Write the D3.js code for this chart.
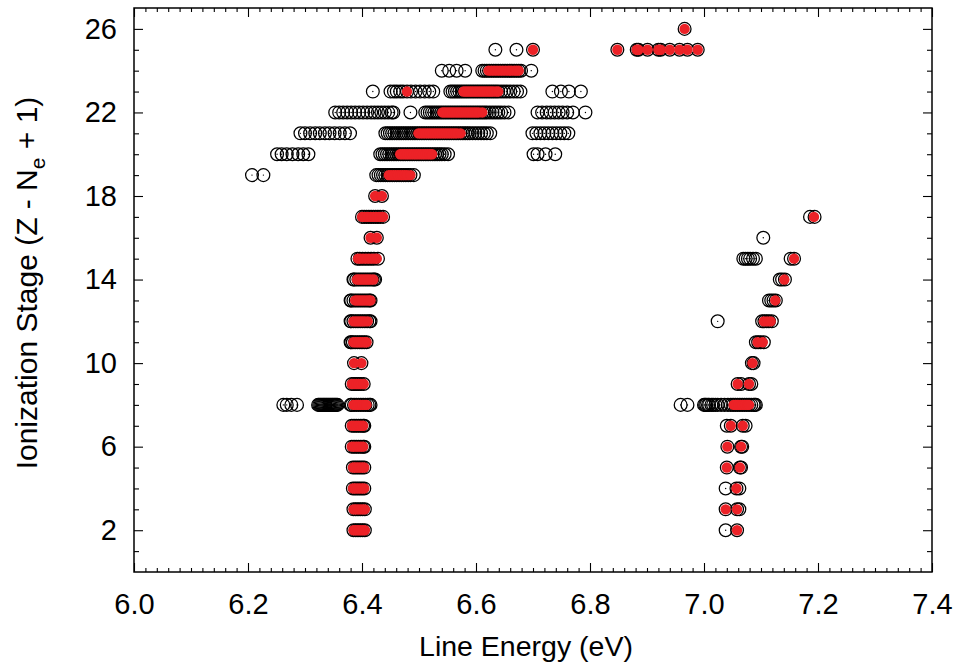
<!DOCTYPE html>
<html>
<head>
<meta charset="utf-8">
<script src="https://cdn.jsdelivr.net/npm/d3@7"></script>
<style>
  body { margin: 0; background: #fff; }
  svg text { font-family: "Liberation Sans", Arial, Helvetica, sans-serif; fill: #000; }
</style>
</head>
<body>
<svg id="chart" width="957" height="669"></svg>
<script>
// Axis ticks
const xTicks = [6.0, 6.2, 6.4, 6.6, 6.8, 7.0, 7.2, 7.4];
const yTicks = [2, 6, 10, 14, 18, 22, 26];

// Every computed line: ionization stage and its line energies (eV)
const allLines = [
  { stage: 2, energy: [6.385, 6.389, 6.393, 6.397, 6.401, 6.405, 7.038, 7.058] },
  { stage: 3, energy: [6.385, 6.389, 6.393, 6.397, 6.401, 6.405, 7.038, 7.058, 7.062] },
  { stage: 4, energy: [6.384, 6.388, 6.392, 6.396, 6.400, 6.404, 7.038, 7.057, 7.062] },
  { stage: 5, energy: [6.384, 6.388, 6.392, 6.396, 6.400, 6.404, 7.040, 7.063, 7.065] },
  { stage: 6, energy: [6.382, 6.386, 6.390, 6.394, 6.398, 6.402, 6.404, 7.041, 7.065, 7.067] },
  { stage: 7, energy: [6.382, 6.386, 6.390, 6.394, 6.398, 6.402, 6.404, 7.040, 7.047, 7.068, 7.073] },
  { stage: 8, energy: [6.262, 6.268, 6.276, 6.286, 6.323, 6.325, 6.327, 6.329, 6.331, 6.333, 6.335, 6.337,
                       6.339, 6.341, 6.343, 6.345, 6.347, 6.349, 6.351, 6.353, 6.355, 6.357, 6.380, 6.382,
                       6.386, 6.390, 6.394, 6.398, 6.402, 6.406, 6.410, 6.413, 6.415, 6.959, 6.971, 7.000,
                       7.002, 7.004, 7.007, 7.009, 7.013, 7.016, 7.020, 7.024, 7.030, 7.036, 7.042, 7.047,
                       7.051, 7.055, 7.059, 7.063, 7.067, 7.071, 7.075, 7.079, 7.083, 7.087, 7.089, 7.091] },
  { stage: 9, energy: [6.382, 6.386, 6.390, 6.394, 6.398, 6.403, 7.059, 7.065, 7.079, 7.083] },
  { stage: 10, energy: [6.386, 6.399, 7.084, 7.087] },
  { stage: 11, energy: [6.380, 6.381, 6.384, 6.388, 6.392, 6.396, 6.400, 6.404, 6.408, 7.091, 7.095, 7.099,
                        7.105] },
  { stage: 12, energy: [6.380, 6.381, 6.385, 6.389, 6.393, 6.397, 6.401, 6.405, 6.409, 6.413, 6.415, 7.024,
                        7.102, 7.106, 7.110, 7.114, 7.119] },
  { stage: 13, energy: [6.380, 6.381, 6.385, 6.389, 6.393, 6.397, 6.401, 6.405, 6.409, 6.413, 6.415, 7.114,
                        7.118, 7.122, 7.126] },
  { stage: 14, energy: [6.385, 6.386, 6.390, 6.394, 6.398, 6.402, 6.406, 6.410, 6.414, 6.418, 6.421, 6.423,
                        7.133, 7.137, 7.142] },
  { stage: 15, energy: [6.392, 6.396, 6.401, 6.406, 6.411, 6.416, 6.421, 6.428, 7.069, 7.073, 7.077, 7.081,
                        7.086, 7.091, 7.152, 7.158] },
  { stage: 16, energy: [6.415, 6.426, 7.104] },
  { stage: 17, energy: [6.400, 6.404, 6.408, 6.412, 6.416, 6.420, 6.424, 6.428, 6.432, 6.437, 7.186, 7.194] },
  { stage: 18, energy: [6.423, 6.435] },
  { stage: 19, energy: [6.207, 6.227, 6.425, 6.429, 6.433, 6.437, 6.441, 6.445, 6.449, 6.453, 6.457, 6.461,
                        6.465, 6.469, 6.473, 6.477, 6.481, 6.485, 6.491] },
  { stage: 20, energy: [6.251, 6.259, 6.268, 6.278, 6.288, 6.297, 6.306, 6.432, 6.436, 6.440, 6.444, 6.448,
                        6.452, 6.456, 6.460, 6.464, 6.468, 6.472, 6.476, 6.480, 6.484, 6.488, 6.492, 6.496,
                        6.500, 6.504, 6.508, 6.512, 6.516, 6.520, 6.524, 6.528, 6.532, 6.536, 6.540, 6.545,
                        6.551, 6.701, 6.708, 6.722, 6.739] },
  { stage: 21, energy: [6.292, 6.300, 6.309, 6.318, 6.326, 6.335, 6.343, 6.352, 6.361, 6.370, 6.379, 6.441,
                        6.445, 6.449, 6.453, 6.457, 6.461, 6.465, 6.469, 6.473, 6.477, 6.481, 6.485, 6.489,
                        6.493, 6.497, 6.501, 6.505, 6.509, 6.513, 6.517, 6.521, 6.525, 6.529, 6.533, 6.537,
                        6.541, 6.545, 6.549, 6.553, 6.557, 6.561, 6.565, 6.569, 6.573, 6.577, 6.581, 6.585,
                        6.589, 6.594, 6.599, 6.604, 6.609, 6.614, 6.619, 6.625, 6.699, 6.706, 6.713, 6.720,
                        6.727, 6.734, 6.741, 6.748, 6.755, 6.762] },
  { stage: 22, energy: [6.353, 6.360, 6.367, 6.374, 6.381, 6.388, 6.395, 6.402, 6.409, 6.416, 6.422, 6.428,
                        6.434, 6.440, 6.446, 6.452, 6.455, 6.485, 6.511, 6.515, 6.519, 6.523, 6.527, 6.531,
                        6.535, 6.539, 6.543, 6.547, 6.551, 6.555, 6.559, 6.563, 6.567, 6.571, 6.575, 6.579,
                        6.583, 6.587, 6.591, 6.595, 6.599, 6.603, 6.607, 6.611, 6.615, 6.619, 6.624, 6.629,
                        6.634, 6.639, 6.644, 6.650, 6.657, 6.708, 6.716, 6.724, 6.731, 6.738, 6.745, 6.752,
                        6.760, 6.770, 6.792] },
  { stage: 23, energy: [6.419, 6.450, 6.456, 6.461, 6.467, 6.472, 6.479, 6.486, 6.494, 6.502, 6.510, 6.518,
                        6.525, 6.555, 6.559, 6.563, 6.567, 6.571, 6.575, 6.579, 6.583, 6.587, 6.591, 6.595,
                        6.599, 6.603, 6.607, 6.611, 6.615, 6.619, 6.623, 6.627, 6.631, 6.635, 6.639, 6.644,
                        6.649, 6.654, 6.660, 6.666, 6.672, 6.678, 6.734, 6.749, 6.763, 6.784] },
  { stage: 24, energy: [6.540, 6.553, 6.566, 6.581, 6.611, 6.615, 6.619, 6.623, 6.627, 6.631, 6.635, 6.639,
                        6.643, 6.647, 6.651, 6.655, 6.659, 6.663, 6.667, 6.671, 6.675, 6.679, 6.697] },
  { stage: 25, energy: [6.634, 6.671, 6.700, 6.848, 6.882, 6.885, 6.901, 6.920, 6.924, 6.940, 6.957, 6.971,
                        6.989] },
  { stage: 26, energy: [6.966] }
];

// Strong lines, drawn as filled red markers over the full set
const strongLines = [
  { stage: 2, energy: [6.385, 6.389, 6.393, 6.397, 6.401, 6.405, 7.058] },
  { stage: 3, energy: [6.385, 6.389, 6.393, 6.397, 6.401, 6.405, 7.038, 7.058] },
  { stage: 4, energy: [6.384, 6.388, 6.392, 6.396, 6.400, 6.404, 7.057] },
  { stage: 5, energy: [6.384, 6.388, 6.392, 6.396, 6.400, 6.404, 7.040, 7.063] },
  { stage: 6, energy: [6.382, 6.386, 6.390, 6.394, 6.398, 6.402, 7.041, 7.065] },
  { stage: 7, energy: [6.382, 6.386, 6.390, 6.394, 6.398, 6.402, 7.047, 7.068] },
  { stage: 8, energy: [6.385, 6.389, 6.393, 6.397, 6.401, 6.405, 6.408, 7.052, 7.056, 7.060, 7.064, 7.068,
                       7.072, 7.076, 7.079] },
  { stage: 9, energy: [6.382, 6.386, 6.390, 6.394, 6.398, 6.403, 7.059, 7.079] },
  { stage: 10, energy: [6.386, 6.399, 7.085] },
  { stage: 11, energy: [6.385, 6.389, 6.393, 6.397, 6.401, 6.405, 6.408, 7.094, 7.103] },
  { stage: 12, energy: [6.385, 6.389, 6.393, 6.397, 6.401, 6.405, 6.410, 7.105, 7.111, 7.117] },
  { stage: 13, energy: [6.388, 6.392, 6.396, 6.400, 6.404, 6.408, 6.412, 6.415, 7.125] },
  { stage: 14, energy: [6.391, 6.395, 6.399, 6.403, 6.407, 6.411, 6.415, 6.420, 7.141] },
  { stage: 15, energy: [6.393, 6.397, 6.402, 6.407, 6.412, 6.417, 6.422, 6.426, 7.158] },
  { stage: 16, energy: [6.415, 6.426] },
  { stage: 17, energy: [6.400, 6.405, 6.410, 6.415, 6.420, 6.425, 6.430, 6.434, 6.437, 7.193] },
  { stage: 18, energy: [6.423, 6.435] },
  { stage: 19, energy: [6.447, 6.451, 6.455, 6.459, 6.463, 6.467, 6.471, 6.475, 6.479, 6.485] },
  { stage: 20, energy: [6.467, 6.471, 6.475, 6.479, 6.483, 6.487, 6.491, 6.495, 6.499, 6.503, 6.507, 6.511,
                        6.515, 6.519, 6.523] },
  { stage: 21, energy: [6.499, 6.503, 6.507, 6.511, 6.515, 6.519, 6.523, 6.527, 6.531, 6.535, 6.539, 6.543,
                        6.547, 6.551, 6.555, 6.559, 6.563, 6.567, 6.573] },
  { stage: 22, energy: [6.541, 6.545, 6.549, 6.553, 6.557, 6.561, 6.565, 6.569, 6.573, 6.577, 6.581, 6.585,
                        6.589, 6.593, 6.597, 6.601, 6.605, 6.611] },
  { stage: 23, energy: [6.479, 6.578, 6.582, 6.586, 6.590, 6.594, 6.598, 6.602, 6.606, 6.610, 6.614, 6.618,
                        6.622, 6.626, 6.630, 6.635, 6.639] },
  { stage: 24, energy: [6.622, 6.627, 6.632, 6.637, 6.642, 6.647, 6.652, 6.657, 6.662, 6.667, 6.671, 6.675] },
  { stage: 25, energy: [6.700, 6.848, 6.882, 6.885, 6.901, 6.920, 6.924, 6.940, 6.957, 6.971, 6.989] },
  { stage: 26, energy: [6.966] }
];

// ---- layout ----
const svg = d3.select("#chart");
const plot = { left: 134, right: 932, top: 8, bottom: 572 };

const x = d3.scaleLinear().domain([6.0, 7.4]).range([plot.left, plot.right]);
const y = d3.scaleLinear().domain([0, 27]).range([plot.bottom, plot.top]);

const flatten = rows => rows.flatMap(r => r.energy.map(e => ({ e, s: r.stage })));
const allPts = flatten(allLines);
const strongPts = flatten(strongLines);

const xMinor = d3.range(0, 71).map(i => +(6.0 + i * 0.02).toFixed(2))
  .filter(v => !xTicks.some(t => Math.abs(t - v) < 1e-6));
const yMinor = d3.range(1, 27).filter(v => !yTicks.includes(v));

// ---- markers ----
const marks = svg.append("g");

marks.append("g").selectAll("circle")
  .data(allPts).join("circle")
  .attr("cx", d => x(d.e)).attr("cy", d => y(d.s))
  .attr("r", 6.4)
  .attr("fill", "none").attr("stroke", "#000").attr("stroke-width", 1.25);

marks.append("g").selectAll("circle")
  .data(allPts).join("circle")
  .attr("cx", d => x(d.e)).attr("cy", d => y(d.s))
  .attr("r", 0.7).attr("fill", "#000");

marks.append("g").selectAll("circle")
  .data(strongPts).join("circle")
  .attr("cx", d => x(d.e)).attr("cy", d => y(d.s))
  .attr("r", 5.2).attr("fill", "#ec2227");

// ---- axes ----
function styleAxis(g) {
  g.select(".domain").remove();
  g.selectAll(".tick line").attr("stroke", "#000").attr("stroke-width", 1.1);
  g.selectAll(".tick text").attr("font-size", 29).attr("fill", "#000")
    .style("font-family", '"Liberation Sans", Arial, sans-serif');
}

// bottom
svg.append("g").attr("transform", `translate(0,${plot.bottom})`)
  .call(d3.axisBottom(x).tickValues(xTicks).tickFormat(d3.format(".1f")).tickSize(-9).tickPadding(21))
  .call(styleAxis);
svg.append("g").attr("transform", `translate(0,${plot.bottom})`)
  .call(d3.axisBottom(x).tickValues(xMinor).tickFormat("").tickSize(-4))
  .call(styleAxis);
// top
svg.append("g").attr("transform", `translate(0,${plot.top})`)
  .call(d3.axisTop(x).tickValues(xTicks).tickFormat("").tickSize(-9))
  .call(styleAxis);
svg.append("g").attr("transform", `translate(0,${plot.top})`)
  .call(d3.axisTop(x).tickValues(xMinor).tickFormat("").tickSize(-4))
  .call(styleAxis);
// left
svg.append("g").attr("transform", `translate(${plot.left},0)`)
  .call(d3.axisLeft(y).tickValues(yTicks).tickFormat(d3.format("d")).tickSize(-9).tickPadding(17))
  .call(styleAxis);
svg.append("g").attr("transform", `translate(${plot.left},0)`)
  .call(d3.axisLeft(y).tickValues(yMinor).tickFormat("").tickSize(-5))
  .call(styleAxis);
// right
svg.append("g").attr("transform", `translate(${plot.right},0)`)
  .call(d3.axisRight(y).tickValues(yTicks).tickFormat("").tickSize(-9))
  .call(styleAxis);
svg.append("g").attr("transform", `translate(${plot.right},0)`)
  .call(d3.axisRight(y).tickValues(yMinor).tickFormat("").tickSize(-5))
  .call(styleAxis);

// frame
svg.append("rect")
  .attr("x", plot.left).attr("y", plot.top)
  .attr("width", plot.right - plot.left).attr("height", plot.bottom - plot.top)
  .attr("fill", "none").attr("stroke", "#000").attr("stroke-width", 1.5);

// ---- axis titles ----
svg.append("text")
  .attr("x", 526).attr("y", 656)
  .attr("text-anchor", "middle").attr("font-size", 28.5)
  .text("Line Energy (eV)");

const yTitle = svg.append("text")
  .attr("transform", `translate(37,283) rotate(-90)`)
  .attr("text-anchor", "middle").attr("font-size", 30);
yTitle.append("tspan").text("Ionization Stage (Z - N");
yTitle.append("tspan").attr("font-size", 21).attr("dy", 8).text("e");
yTitle.append("tspan").attr("dy", -8).text(" + 1)");
</script>
</body>
</html>
